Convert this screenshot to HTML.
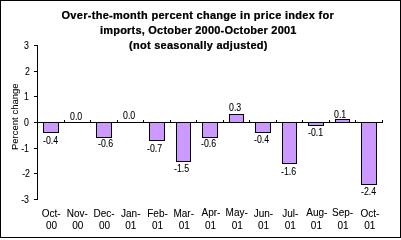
<!DOCTYPE html><html><head><meta charset="utf-8"><style>html,body{margin:0;padding:0;background:#fff;}
body{width:401px;height:238px;position:relative;overflow:hidden;font-family:"Liberation Sans",sans-serif;color:#000;}
svg{position:absolute;left:0;top:0;}
div{position:absolute;white-space:nowrap;line-height:12px;}
.ti{font-weight:bold;font-size:11px;letter-spacing:0.27px;}
.sm{font-size:10px;transform:scaleX(0.88);transform-origin:0 0;}
.yl{font-size:10px;width:30px;text-align:right;transform:scaleX(0.88);transform-origin:100% 0;}
.smc{font-size:10px;width:40px;text-align:center;}
.rot{font-size:9.5px;transform-origin:0 0;transform:rotate(-90deg);}
#t1{letter-spacing:0.29px;}
#t2{letter-spacing:0.21px;}
</style></head><body>
<svg width="0" height="0" style="position:absolute"><filter id="ft" x="0" y="0" width="100%" height="100%"><feComponentTransfer><feFuncA type="gamma" amplitude="1" exponent="0.6"/></feComponentTransfer></filter><filter id="fs" x="0" y="0" width="100%" height="100%"><feComponentTransfer><feFuncA type="gamma" amplitude="1" exponent="0.85"/></feComponentTransfer></filter></svg>
<svg width="401" height="238" shape-rendering="crispEdges"><rect x="0.5" y="0.5" width="400" height="237" fill="none" stroke="#000" stroke-width="1"/><rect x="37" y="45" width="1" height="155" fill="#000"/><rect x="34" y="45" width="3" height="1" fill="#000"/><rect x="34" y="71" width="3" height="1" fill="#000"/><rect x="34" y="96" width="3" height="1" fill="#000"/><rect x="34" y="122" width="3" height="1" fill="#000"/><rect x="34" y="148" width="3" height="1" fill="#000"/><rect x="34" y="173" width="3" height="1" fill="#000"/><rect x="34" y="199" width="3" height="1" fill="#000"/><rect x="37" y="122" width="346" height="1" fill="#000"/><rect x="64" y="120" width="1" height="2" fill="#000"/><rect x="90" y="120" width="1" height="2" fill="#000"/><rect x="117" y="120" width="1" height="2" fill="#000"/><rect x="143" y="120" width="1" height="2" fill="#000"/><rect x="170" y="120" width="1" height="2" fill="#000"/><rect x="196" y="120" width="1" height="2" fill="#000"/><rect x="223" y="120" width="1" height="2" fill="#000"/><rect x="249" y="120" width="1" height="2" fill="#000"/><rect x="276" y="120" width="1" height="2" fill="#000"/><rect x="302" y="120" width="1" height="2" fill="#000"/><rect x="329" y="120" width="1" height="2" fill="#000"/><rect x="355" y="120" width="1" height="2" fill="#000"/><rect x="382" y="120" width="1" height="2" fill="#000"/><rect x="43.5" y="122.5" width="15" height="10" fill="#CC99FF" stroke="#000" stroke-width="1"/><rect x="96.5" y="122.5" width="15" height="15" fill="#CC99FF" stroke="#000" stroke-width="1"/><rect x="149.5" y="122.5" width="15" height="18" fill="#CC99FF" stroke="#000" stroke-width="1"/><rect x="176.5" y="122.5" width="14" height="39" fill="#CC99FF" stroke="#000" stroke-width="1"/><rect x="202.5" y="122.5" width="15" height="15" fill="#CC99FF" stroke="#000" stroke-width="1"/><rect x="229.5" y="114.5" width="14" height="8" fill="#CC99FF" stroke="#000" stroke-width="1"/><rect x="255.5" y="122.5" width="15" height="10" fill="#CC99FF" stroke="#000" stroke-width="1"/><rect x="282.5" y="122.5" width="14" height="41" fill="#CC99FF" stroke="#000" stroke-width="1"/><rect x="308.5" y="122.5" width="15" height="3" fill="#CC99FF" stroke="#000" stroke-width="1"/><rect x="335.5" y="119.5" width="14" height="3" fill="#CC99FF" stroke="#000" stroke-width="1"/><rect x="361.5" y="122.5" width="15" height="62" fill="#CC99FF" stroke="#000" stroke-width="1"/></svg>
<div id="txt" style="left:0;top:0;width:401px;height:238px;filter:url(#ft)">
<div id="t1" class="ti" style="left:61.5px;top:9.0px">Over-the-month percent change in price index for</div>
<div id="t2" class="ti" style="left:100.0px;top:24.0px">imports, October 2000-October 2001</div>
<div id="t3" class="ti" style="left:129.0px;top:39.0px">(not seasonally adjusted)</div>
</div><div id="txs" style="left:0;top:0;width:401px;height:238px;filter:url(#fs)">
<div id="y3" class="yl" style="left:-1.0px;top:39.5px">3</div>
<div id="y2" class="yl" style="left:0.0px;top:65.5px">2</div>
<div id="y1" class="yl" style="left:-1.0px;top:90.5px">1</div>
<div id="y0" class="yl" style="left:-1.0px;top:116.5px">0</div>
<div id="y-1" class="yl" style="left:-1.0px;top:142.5px">-1</div>
<div id="y-2" class="yl" style="left:0.0px;top:167.5px">-2</div>
<div id="y-3" class="yl" style="left:-1.0px;top:193.5px">-3</div>
<div id="pc" class="rot" style="left:9.0px;top:149.5px">Percent change</div>
<div id="l0" class="sm" style="left:42.5px;top:134.5px">-0.4</div>
<div id="l1" class="sm" style="left:69.5px;top:110.5px">0.0</div>
<div id="l2" class="sm" style="left:97.5px;top:137.5px">-0.6</div>
<div id="l3" class="sm" style="left:122.5px;top:109.5px">0.0</div>
<div id="l4" class="sm" style="left:146.5px;top:142.5px">-0.7</div>
<div id="l5" class="sm" style="left:173.5px;top:162.5px">-1.5</div>
<div id="l6" class="sm" style="left:200.5px;top:137.5px">-0.6</div>
<div id="l7" class="sm" style="left:229.0px;top:101.5px">0.3</div>
<div id="l8" class="sm" style="left:253.5px;top:133.5px">-0.4</div>
<div id="l9" class="sm" style="left:280.5px;top:165.5px">-1.6</div>
<div id="l10" class="sm" style="left:307.5px;top:126.5px">-0.1</div>
<div id="l11" class="sm" style="left:333.5px;top:108.5px">0.1</div>
<div id="l12" class="sm" style="left:361.0px;top:185.5px">-2.4</div>
<div id="c0a" class="smc" style="left:31.12px;top:207.5px">Oct-</div>
<div id="c0b" class="smc" style="left:31.62px;top:219.5px">00</div>
<div id="c1a" class="smc" style="left:57.36px;top:207.5px">Nov-</div>
<div id="c1b" class="smc" style="left:57.86px;top:219.5px">00</div>
<div id="c2a" class="smc" style="left:84.10px;top:207.5px">Dec-</div>
<div id="c2b" class="smc" style="left:84.60px;top:219.5px">00</div>
<div id="c3a" class="smc" style="left:110.78px;top:207.5px">Jan-</div>
<div id="c3b" class="smc" style="left:110.78px;top:219.5px">01</div>
<div id="c4a" class="smc" style="left:137.52px;top:207.5px">Feb-</div>
<div id="c4b" class="smc" style="left:137.52px;top:219.5px">01</div>
<div id="c5a" class="smc" style="left:163.76px;top:207.5px">Mar-</div>
<div id="c5b" class="smc" style="left:164.26px;top:219.5px">01</div>
<div id="c6a" class="smc" style="left:191.00px;top:206.5px">Apr-</div>
<div id="c6b" class="smc" style="left:190.50px;top:219.5px">01</div>
<div id="c7a" class="smc" style="left:216.74px;top:206.5px">May-</div>
<div id="c7b" class="smc" style="left:217.24px;top:219.5px">01</div>
<div id="c8a" class="smc" style="left:243.48px;top:207.5px">Jun-</div>
<div id="c8b" class="smc" style="left:243.48px;top:219.5px">01</div>
<div id="c9a" class="smc" style="left:270.22px;top:207.5px">Jul-</div>
<div id="c9b" class="smc" style="left:270.22px;top:219.5px">01</div>
<div id="c10a" class="smc" style="left:296.90px;top:206.5px">Aug-</div>
<div id="c10b" class="smc" style="left:296.40px;top:219.5px">01</div>
<div id="c11a" class="smc" style="left:322.64px;top:206.5px">Sep-</div>
<div id="c11b" class="smc" style="left:323.14px;top:219.5px">01</div>
<div id="c12a" class="smc" style="left:349.88px;top:207.5px">Oct-</div>
<div id="c12b" class="smc" style="left:349.88px;top:219.5px">01</div>
</div></body></html>
